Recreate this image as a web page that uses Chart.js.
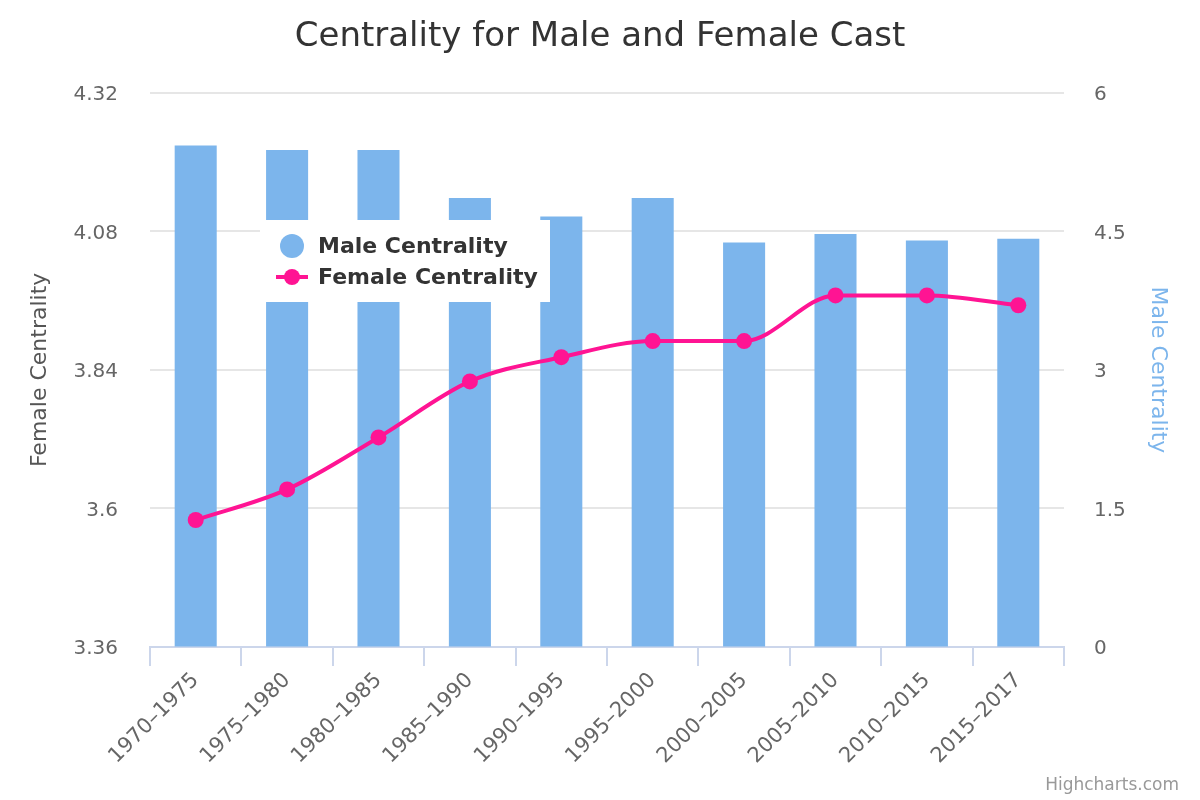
<!DOCTYPE html>
<html>
<head>
<meta charset="utf-8">
<title>Centrality for Male and Female Cast</title>
<script src="https://cdn.jsdelivr.net/npm/chart.js@4/dist/chart.umd.min.js"></script>
<style>
    html, body { margin: 0; padding: 0; background: #fff; }
    #wrap { width: 1200px; height: 800px; position: relative; }
</style>
</head>
<body>
<div id="wrap"><canvas id="chart-centralidade"></canvas></div>
<script>
// dados
const PERIODOS = [
    '1970–1975', '1975–1980', '1980–1985', '1985–1990', '1990–1995',
    '1995–2000', '2000–2005', '2005–2010', '2010–2015', '2015–2017'
];
const MALE_CENTRALITY = [5.43, 5.38, 5.38, 4.86, 4.66, 4.86, 4.38, 4.47, 4.40, 4.42];
const FEMALE_CENTRALITY = [3.58, 3.633, 3.723, 3.82, 3.862, 3.89, 3.89, 3.969, 3.969, 3.952];
const TICKS_FEMALE = [3.36, 3.6, 3.84, 4.08, 4.32];
const TICKS_MALE = [0, 1.5, 3, 4.5, 6];
const CREDITO = 'Highcharts.com';

const FONTE = '"DejaVu Sans", Verdana, sans-serif';
const COR_MALE = '#7cb5ec';
const COR_FEMALE = '#ff1493';

// legenda dentro da área do gráfico, como no original
const legendaInterna = {
    id: 'legendaInterna',
    afterDraw(chart) {
        const ctx = chart.ctx;
        const ds = chart.data.datasets;
        const male = ds.find(d => d.yAxisID === 'yM');
        const female = ds.find(d => d.yAxisID === 'yF');
        ctx.save();
        ctx.fillStyle = '#ffffff';
        ctx.fillRect(260, 220, 290, 82);

        ctx.fillStyle = male.backgroundColor;
        ctx.beginPath();
        ctx.arc(292, 246, 12, 0, Math.PI * 2);
        ctx.fill();

        ctx.strokeStyle = female.borderColor;
        ctx.lineWidth = 4;
        ctx.beginPath();
        ctx.moveTo(276, 277);
        ctx.lineTo(308, 277);
        ctx.stroke();
        ctx.fillStyle = female.borderColor;
        ctx.beginPath();
        ctx.arc(292, 277, 8, 0, Math.PI * 2);
        ctx.fill();

        ctx.fillStyle = '#333333';
        ctx.font = 'bold 22px ' + FONTE;
        ctx.textBaseline = 'middle';
        ctx.textAlign = 'left';
        ctx.fillText(male.label, 318, 247);
        ctx.fillText(female.label, 318, 278);

        // crédito no canto
        ctx.fillStyle = '#999999';
        ctx.font = '17px ' + FONTE;
        ctx.textAlign = 'right';
        ctx.textBaseline = 'alphabetic';
        ctx.fillText(CREDITO, 1179, 790);
        ctx.restore();
    }
};

const ctx = document.getElementById('chart-centralidade');
const chart = new Chart(ctx, {
    type: 'bar',
    data: {
        labels: PERIODOS,
        datasets: [{
            type: 'line',
            label: 'Female Centrality',
            data: FEMALE_CENTRALITY,
            yAxisID: 'yF',
            borderColor: COR_FEMALE,
            backgroundColor: COR_FEMALE,
            pointBackgroundColor: COR_FEMALE,
            pointBorderWidth: 0,
            pointRadius: 8,
            borderWidth: 4,
            cubicInterpolationMode: 'monotone',
            order: 0
        }, {
            type: 'bar',
            label: 'Male Centrality',
            data: MALE_CENTRALITY,
            yAxisID: 'yM',
            backgroundColor: COR_MALE,
            categoryPercentage: 1,
            barPercentage: 0.46,
            order: 1
        }]
    },
    options: {
        responsive: true,
        maintainAspectRatio: false,
        animation: false,
        layout: { padding: 0 },
        plugins: {
            legend: { display: false },
            tooltip: { enabled: false },
            title: {
                display: true,
                text: 'Centrality for Male and Female Cast',
                color: '#333333',
                font: { family: FONTE, size: 34, weight: 'normal' },
                padding: { top: 17, bottom: 35 }
            }
        },
        scales: {
            x: {
                offset: true,
                grid: {
                    offset: true,
                    drawOnChartArea: false,
                    drawTicks: true,
                    tickLength: 19,
                    color: '#ccd6eb',
                    lineWidth: 2
                },
                border: { color: '#ccd6eb', width: 2 },
                ticks: {
                    maxRotation: 45,
                    minRotation: 45,
                    autoSkip: false,
                    padding: 2,
                    color: '#666666',
                    font: { family: FONTE, size: 21 }
                },
                afterFit: s => { s.height = 153; }
            },
            yF: {
                position: 'left',
                min: 3.36,
                max: 4.32,
                afterBuildTicks: s => { s.ticks = TICKS_FEMALE.map(v => ({ value: v })); },
                grid: { color: '#e6e6e6', lineWidth: 2, drawTicks: false },
                border: { display: false },
                ticks: {
                    padding: 32,
                    labelOffset: 2,
                    color: '#666666',
                    font: { family: FONTE, size: 20 },
                    callback: v => String(v)
                },
                title: {
                    display: true,
                    text: 'Female Centrality',
                    color: '#555555',
                    font: { family: FONTE, size: 22 },
                    padding: { top: 27, bottom: 0 }
                },
                afterFit: s => { s.width = 150; }
            },
            yM: {
                position: 'right',
                min: 0,
                max: 6,
                afterBuildTicks: s => { s.ticks = TICKS_MALE.map(v => ({ value: v })); },
                grid: { drawOnChartArea: false, drawTicks: false },
                border: { display: false },
                ticks: {
                    padding: 30,
                    labelOffset: 2,
                    color: '#666666',
                    font: { family: FONTE, size: 20 },
                    callback: v => String(v)
                },
                title: {
                    display: true,
                    text: 'Male Centrality',
                    color: COR_MALE,
                    font: { family: FONTE, size: 22 },
                    padding: { top: 29, bottom: 0 }
                },
                afterFit: s => { s.width = 136; }
            }
        }
    },
    plugins: [legendaInterna]
});
</script>
</body>
</html>
